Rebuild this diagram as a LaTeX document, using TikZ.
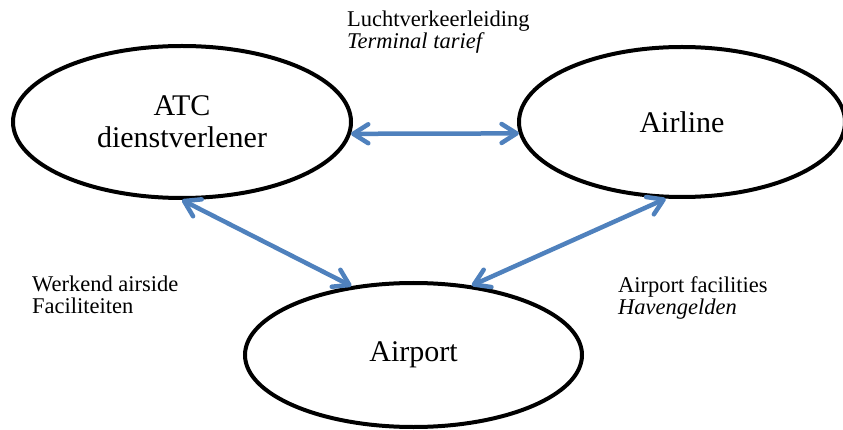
\documentclass[tikz,border=0pt]{standalone}
\usepackage{fontspec}
\setmainfont{Liberation Serif}
\usetikzlibrary{positioning,arrows.meta,shapes.geometric}
\definecolor{linkblue}{RGB}{79,129,189}
\tikzset{
  party/.style={draw=black, line width=4pt, ellipse, inner sep=0pt, align=center,
    font=\fontsize{30}{32}\selectfont},
  link/.style={draw=linkblue, line width=4.5pt,
    {Straight Barb[round,length=15pt,width=19pt]}-{Straight Barb[round,length=15pt,width=19pt]}},
  note/.style={anchor=north west, inner sep=0pt, align=left,
    font=\fontsize{22.5}{22}\selectfont}
}

\begin{document}
\begin{tikzpicture}[x=1pt,y=-1pt]
  \useasboundingbox (0,0) rectangle (843,430);
  \node[party, minimum width=338pt, minimum height=152pt] (atc) at (182,122) {ATC\\dienstverlener};
  \node[party, minimum width=326pt, minimum height=150pt, right=164pt of atc] (airline) {Airline};
  \node[party, minimum width=337pt, minimum height=144pt] (airport) at (413.5,355) {Airport};
  \node[note] (luvl) at (347,11) {Luchtverkeerleiding\\\textit{Terminal tarief}};
  \node[note] (werk) at (32,276) {Werkend airside\\Faciliteiten};
  \node[note] (fac) at (618,276) {Airport facilities\\\textit{Havengelden}};
  \draw[link] (atc.-4.4) -- (airline.-176);
  \draw[link] (atc.south) -- (airport.132);
  \draw[link] (airline.-102) -- (airport.50);
\end{tikzpicture}
\end{document}
